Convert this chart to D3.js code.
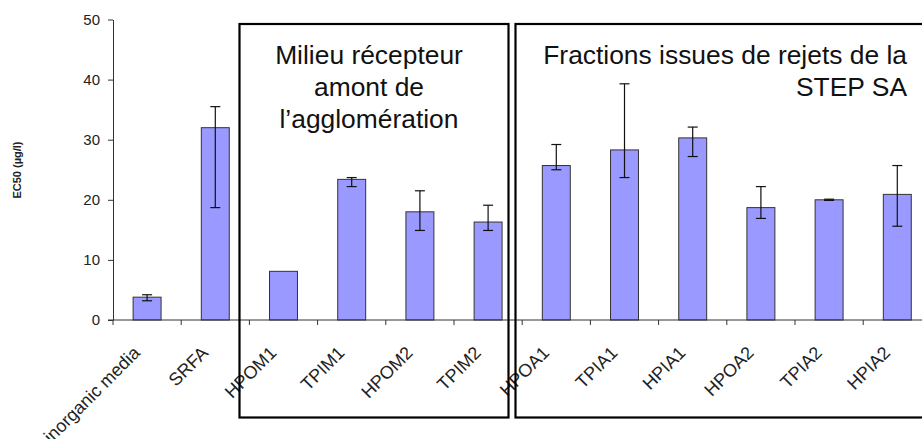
<!DOCTYPE html>
<html>
<head>
<meta charset="utf-8">
<script src="https://cdn.jsdelivr.net/npm/d3@7"></script>
<style>
  body { margin: 0; background: #fff; }
  svg { display: block; font-family: Arial, "Liberation Sans", sans-serif; }
  .axis path, .axis line { stroke: #333; }
  .axis text { fill: #222; font-size: 15px; }
  .xlab { fill: #222; font-size: 18px; }
</style>
</head>
<body>
<svg id="chart" width="922" height="439"></svg>
<script>
// categories and EC50 values (µg/l) with error bar ends
var categories = ["inorganic media", "SRFA", "HPOM1", "TPIM1", "HPOM2", "TPIM2",
                  "HPOA1", "TPIA1", "HPIA1", "HPOA2", "TPIA2", "HPIA2"]
var ec50 = [3.8, 32.0, 8.1, 23.4, 18.0, 16.3, 25.7, 28.3, 30.3, 18.7, 20.0, 20.9]
var errLow = [3.2, 18.7, null, 22.2, 14.9, 14.9, 25.0, 23.7, 27.2, 16.9, 19.9, 15.6]
var errHigh = [4.2, 35.5, null, 23.7, 21.5, 19.1, 29.2, 39.3, 32.1, 22.2, 20.1, 25.7]
var yTicks = [0, 10, 20, 30, 40, 50]

var boxTitles = [
    {lines: ["Milieu récepteur", "amont de", "l’agglomération"], anchor: "middle"},
    {lines: ["Fractions issues de rejets de la", "STEP SA"], anchor: "end"}
]

var data = categories.map(function(c, i) {
    return {name: c, value: ec50[i], lo: errLow[i], hi: errHigh[i]}
})

var plotLeft = 113, plotTop = 19.5, plotBottom = 320, step = 68.2
var pad = 0.59

var svg = d3.select("#chart")

var x = d3.scaleBand()
    .domain(categories)
    .range([plotLeft, plotLeft + step * categories.length])
    .paddingInner(pad)
    .paddingOuter(pad / 2)

var y = d3.scaleLinear()
    .domain([0, 50])
    .range([plotBottom, plotTop])

var cx = function(d) { return x(d) + x.bandwidth() / 2 }

// bars
svg.append("g").selectAll("rect")
    .data(data)
    .enter().append("rect")
    .attr("x", function(d) { return x(d.name) })
    .attr("y", function(d) { return y(d.value) })
    .attr("width", x.bandwidth())
    .attr("height", function(d) { return y(0) - y(d.value) })
    .attr("fill", "#9999ff")
    .attr("stroke", "#333")
    .attr("stroke-width", 1)

// error bars
var eb = svg.append("g").selectAll("g")
    .data(data.filter(function(d) { return d.lo != null }))
    .enter().append("g")
    .attr("stroke", "#111")
    .attr("stroke-width", 1.2)

eb.append("line")
    .attr("x1", function(d) { return cx(d.name) })
    .attr("x2", function(d) { return cx(d.name) })
    .attr("y1", function(d) { return y(d.lo) })
    .attr("y2", function(d) { return y(d.hi) })

;["lo", "hi"].forEach(function(k) {
    eb.append("line")
        .attr("x1", function(d) { return cx(d.name) - 5 })
        .attr("x2", function(d) { return cx(d.name) + 5 })
        .attr("y1", function(d) { return y(d[k]) })
        .attr("y2", function(d) { return y(d[k]) })
})

// y axis
svg.append("g")
    .attr("class", "axis")
    .attr("transform", "translate(" + plotLeft + ",0)")
    .call(d3.axisLeft(y).tickValues(yTicks).tickSize(5).tickSizeOuter(0).tickPadding(8))
    .call(function(g) { g.selectAll("text").attr("font-size", null) })

// x axis line with ticks at category boundaries
var xg = svg.append("g").attr("class", "axis")
xg.append("line")
    .attr("x1", plotLeft - 5).attr("x2", 922)
    .attr("y1", plotBottom).attr("y2", plotBottom)
xg.selectAll(".tk")
    .data(categories)
    .enter().append("line")
    .attr("class", "tk")
    .attr("x1", function(d) { return cx(d) - step / 2 })
    .attr("x2", function(d) { return cx(d) - step / 2 })
    .attr("y1", plotBottom).attr("y2", plotBottom + 5)
svg.append("g").selectAll("text")
    .data(categories)
    .enter().append("text")
    .attr("class", "xlab")
    .attr("text-anchor", "end")
    .attr("transform", function(d) {
        return "translate(" + (cx(d) - 6) + "," + (plotBottom + 34) + ") rotate(-45)"
    })
    .text(function(d) { return d })

// y axis title
svg.append("text")
    .attr("transform", "translate(21,170) rotate(-90)")
    .attr("text-anchor", "middle")
    .attr("font-size", 11)
    .attr("font-weight", "bold")
    .attr("fill", "#222")
    .text("EC50 (µg/l)")

// annotation boxes
var boxes = [{x0: 239.5, x1: 508.5, tx: 369}, {x0: 515.5, x1: 930, tx: 907}]
boxes.forEach(function(b, i) {
    svg.append("rect")
        .attr("x", b.x0).attr("y", 24)
        .attr("width", b.x1 - b.x0).attr("height", 417.5 - 24)
        .attr("fill", "none")
        .attr("stroke", "#000")
        .attr("stroke-width", 2.2)
    var t = svg.append("text")
        .attr("text-anchor", boxTitles[i].anchor)
        .attr("font-size", 26.4)
        .attr("fill", "#111")
    boxTitles[i].lines.forEach(function(line, j) {
        t.append("tspan")
            .attr("x", b.tx)
            .attr("y", 64 + j * 32.2)
            .text(line)
    })
})
</script>
</body>
</html>
